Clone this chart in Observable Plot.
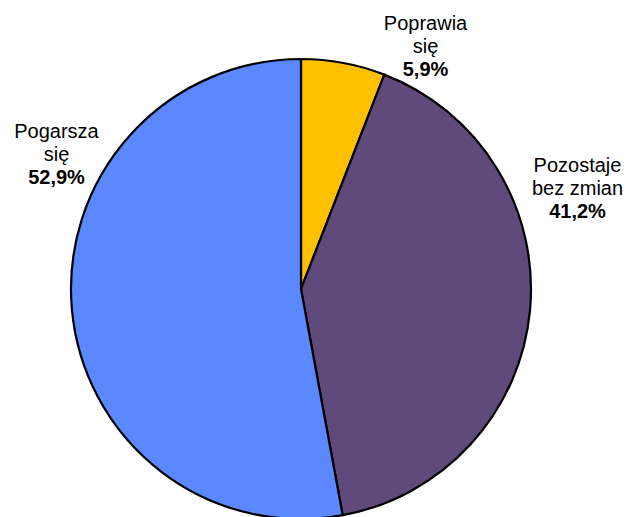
<!DOCTYPE html>
<html>
<head>
<meta charset="utf-8">
<script src="https://cdn.jsdelivr.net/npm/d3@7"></script>
<script src="https://cdn.jsdelivr.net/npm/@observablehq/plot@0.6"></script>
<style>
  html, body { margin: 0; padding: 0; background: #fff; }
</style>
</head>
<body>
<div id="chart"></div>
<script>
// Data
const categories = ["Poprawia się", "Pozostaje bez zmian", "Pogarsza się"];
const values = [5.9, 41.2, 52.9];
const colors = ["#FFC000", "#604A7B", "#5B87FF"];
const labelLine1 = ["Poprawia", "Pozostaje", "Pogarsza"];
const labelLine2 = ["się", "bez zmian", "się"];

// Layout (pixels)
const W = 630, H = 517;
const cx = 301, cy = 289, R = 230;
const labelAnchors = [[425, 29], [577, 171], [56, 137]];
const lineStep = 23;

const slices = d3.pie().sort(null).value(d => d.value)(
  categories.map((c, i) => ({category: c, value: values[i], color: colors[i]}))
);

const textRows = [];
categories.forEach((c, i) => {
  const [x, y] = labelAnchors[i];
  textRows.push({x, y, text: labelLine1[i], bold: false});
  textRows.push({x, y: y + lineStep, text: labelLine2[i], bold: false});
  textRows.push({x, y: y + 2 * lineStep, text: values[i].toFixed(1).replace(".", ",") + "%", bold: true});
});

const pieMark = (index, scales) => {
  const g = d3.create("svg:g")
    .attr("transform", `translate(${scales.x(cx)},${scales.y(cy)})`);
  const arc = d3.arc().innerRadius(0).outerRadius(R);
  g.selectAll("path").data(slices).join("path")
    .attr("d", arc)
    .attr("fill", d => d.data.color)
    .attr("stroke", "#000")
    .attr("stroke-width", 2.2)
    .attr("stroke-linejoin", "round");
  return g.node();
};

const chart = Plot.plot({
  width: W,
  height: H,
  margin: 0,
  x: {domain: [0, W], range: [0, W], axis: null},
  y: {domain: [0, H], range: [0, H], axis: null},
  style: {fontFamily: "Liberation Sans, Arial, sans-serif", background: "#fff"},
  marks: [
    pieMark,
    Plot.text(textRows.filter(d => !d.bold), {
      x: "x", y: "y", text: "text", lineAnchor: "bottom",
      fontSize: 20, fill: "#000"
    }),
    Plot.text(textRows.filter(d => d.bold), {
      x: "x", y: "y", text: "text", lineAnchor: "bottom",
      fontSize: 20, fontWeight: "bold", fill: "#000"
    })
  ]
});
document.getElementById("chart").appendChild(chart);
</script>
</body>
</html>
